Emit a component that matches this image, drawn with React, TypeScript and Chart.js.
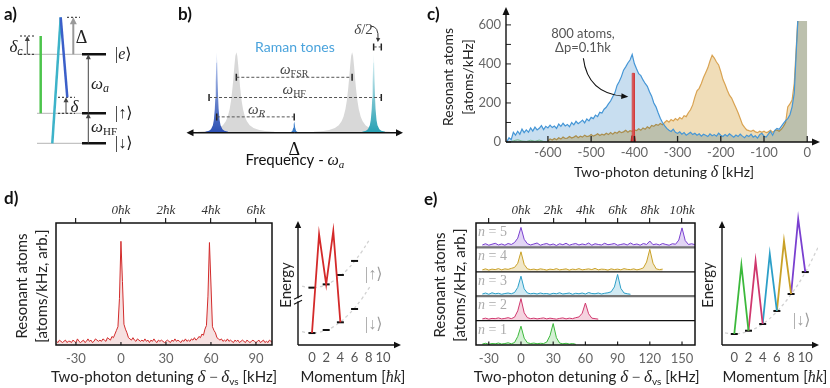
import React, { useEffect, useRef } from 'react';
import { Chart, registerables } from 'chart.js';

Chart.register(...registerables);

// ================= DATA =================
// (a) level scheme, schematic energy units
const aLevelEnergy = [0, 30, 89]; // |↓⟩, |↑⟩, |e⟩
const aDetuningDelta = 37; // Δ above |e⟩
const aCavityDelta = 18.3; // δc above |e⟩
const aTwoPhotonDelta = 16; // δ above |↑⟩

// (b) spectrum, schematic frequency units
const bToneCenters = [-81, 83]; // strong Raman tones
const bSmallToneCenter = 0;
const bCavityCenters = [-60.5, 60.5];
const bCavityOffsets = [-40, -30, -24, -18, -14, -11, -9, -7, -5.5, -4, -3, -2, -1, 0, 1, 2, 3, 4, 5.5, 7, 9, 11, 14, 18, 24, 30, 40];
const bCavityVals = [1.1, 1.9, 2.9, 5.1, 8.1, 12.3, 17.2, 25.1, 34.5, 48.0, 59.6, 71.8, 82.0, 86, 82.0, 71.8, 59.6, 48.0, 34.5, 25.1, 17.2, 12.3, 8.1, 5.1, 2.9, 1.9, 1.1];
const bToneOffsets = [-12, -8, -6, -4, -3, -2, -1.5, -1, -0.5, 0, 0.5, 1, 1.5, 2, 3, 4, 6, 8, 12];
const bToneVals = [1.0, 2.2, 3.9, 8.2, 13.6, 25.5, 36.9, 54.0, 74.9, 86, 74.9, 54.0, 36.9, 25.5, 13.6, 8.2, 3.9, 2.2, 1.0];
const bSmallOffsets = [-5, -3, -2, -1, -0.5, 0, 0.5, 1, 2, 3, 5];
const bSmallVals = [0.4, 1.0, 2.0, 5.4, 9.2, 12, 9.2, 5.4, 2.0, 1.0, 0.4];
const bSpanFrom = [-60.5, -89, -81, 83];
const bSpanTo = [60.5, 91, 0, 91];
const bSpanLevel = [59.3, 37.7, 17, 91.7];

// (c) resonant atoms vs two-photon detuning
const C_STEP = 5;
const C_BLUE_START = -695;
const cBlueAtoms = [
  2, 22, 12, 50, 35, 55, 40, 66, 48, 62,
  50, 72, 56, 76, 62, 70, 84, 64, 80, 72,
  86, 74, 82, 70, 92, 80, 96, 82, 90, 78,
  100, 88, 106, 94, 102, 112, 98, 118, 108, 126,
  120, 138, 130, 152, 148, 168, 178, 195, 210, 232,
  252, 290, 310, 335, 368, 385, 405, 420, 448, 402,
  375, 350, 340, 318, 300, 285, 258, 235, 200, 180,
  150, 122, 100, 84, 70, 60, 54, 66, 50, 44,
  52, 40, 48, 35, 42, 50, 38, 45, 35, 42,
  30, 40, 35, 28, 42, 32, 38, 30, 45, 35,
  28, 38, 30, 42, 33, 25, 36, 28, 40, 30,
  22, 35, 28, 40, 25, 32, 20, 38, 45, 30,
  25, 40, 55, 35, 60, 70, 65, 80, 95, 110,
  120, 140, 180, 250, 480, 700, 700, 700, 700, 700,
];
const C_ORANGE_START = -600;
const cOrangeAtoms = [
  5, 15, 10, 18, 12, 22, 15, 25, 18, 20,
  28, 20, 25, 32, 22, 30, 25, 35, 28, 30,
  38, 30, 35, 42, 33, 40, 36, 45, 38, 48,
  40, 50, 45, 55, 48, 52, 60, 50, 58, 55,
  62, 58, 68, 60, 72, 65, 78, 70, 85, 80,
  90, 85, 95, 88, 100, 110, 102, 115, 108, 120,
  112, 125, 118, 135, 130, 150, 165, 190, 230, 262,
  275, 300, 330, 355, 380, 415, 445, 430, 410, 395,
  360, 320, 295, 265, 240, 225, 200, 175, 150, 120,
  90, 75, 62, 58, 55, 60, 52, 48, 55, 50,
  55, 48, 52, 60, 50, 58, 62, 55, 65, 80,
  100, 180, 195, 215, 300, 500, 700, 700, 700, 700,
  700,
];
const cGreenDetuning = [-690, -680, -670, -660, -650, -640, -630, -620, -610, -600];
const cGreenAtoms = [0, 6, 12, 5, 3, 9, 4, 10, 3, 0];
const cRedBarDetuning = [-405, -405, -400, -400];
const cRedBarAtoms = [0, 352, 352, 0];
const cRedFootDetuning = [-408, -406, -399, -397];
const cRedFootAtoms = [0, 32, 32, 0];
const cDetuningTicks = [-600, -500, -400, -300, -200, -100, 0];
const cAtomTicks = [0, 100, 200, 300, 400, 500, 600];
const cAtomLabelTicks = [0, 200, 400, 600];
const cNoteDetuning = -519;
const cNoteAtoms = [557, 484];

// (d) single-order spectrum
const D_START = -43;
const dSignal = [
  0.03, 0.02, 0.04, 0.03, 0.02, 0.03, 0.04, 0.02, 0.03, 0.03,
  0.02, 0.04, 0.03, 0.02, 0.05, 0.03, 0.02, 0.03, 0.04, 0.02,
  0.03, 0.05, 0.03, 0.04, 0.02, 0.03, 0.05, 0.04, 0.03, 0.04,
  0.03, 0.05, 0.04, 0.03, 0.06, 0.05, 0.04, 0.07, 0.06, 0.09,
  0.12, 0.15, 0.38, 0.85, 0.52, 0.17, 0.13, 0.10, 0.06, 0.05,
  0.04, 0.06, 0.04, 0.03, 0.05, 0.04, 0.03, 0.04, 0.03, 0.05,
  0.03, 0.04, 0.02, 0.04, 0.03, 0.05, 0.03, 0.02, 0.04, 0.03,
  0.04, 0.03, 0.02, 0.03, 0.04, 0.03, 0.02, 0.04, 0.03, 0.05,
  0.03, 0.04, 0.03, 0.02, 0.04, 0.03, 0.05, 0.03, 0.04, 0.03,
  0.05, 0.04, 0.06, 0.04, 0.05, 0.07, 0.06, 0.09, 0.08, 0.13,
  0.16, 0.40, 0.84, 0.50, 0.15, 0.12, 0.10, 0.06, 0.05, 0.04,
  0.05, 0.03, 0.04, 0.03, 0.05, 0.03, 0.04, 0.03, 0.02, 0.04,
  0.03, 0.04, 0.02, 0.03, 0.04, 0.03, 0.02, 0.04, 0.03, 0.02,
  0.03, 0.04, 0.03, 0.02, 0.03, 0.04, 0.02, 0.03, 0.04, 0.02,
  0.03, 0.02, 0.04, 0.03, 0.02,
];
const dTicks = [-30, 0, 30, 60, 90];
const dTopLabels = ['', '0ħk', '2ħk', '4ħk', '6ħk'];
const d2ZigP = [0, 1, 2, 3, 4];
const d2ZigE = [9.8, 90.7, 49.7, 93.4, 18.6];
const d2LevelP = [0, 2, 4, 6];
const d2LevelLow = [9.8, 12.3, 18.6, 29.5];
const d2LevelUp = [47, 49.7, 57.4, 68.9];
const d2ParabP = [-1.4, -1, 0, 1, 2, 3, 4, 5, 6, 7, 8.2];
const d2ParabLow = [10.9, 10.4, 9.8, 10.4, 12.1, 14.9, 18.9, 24.1, 30.3, 37.7, 48.1];
const d2ParabUp = [48.2, 47.6, 47, 47.6, 49.4, 52.4, 56.6, 62, 68.6, 76.4, 87.3];
const d2BreakE = 37;
const momentumTicks = [0, 2, 4, 6, 8, 10];

// (e) higher-order spectra, one strip per n
const E_START = -36;
const E_STEP = 3;
const eN1 = [
  0.04, 0.07, 0.03, 0.06, 0.05, 0.08, 0.04, 0.06, 0.09, 0.05,
  0.10, 0.35, 0.77, 0.28, 0.09, 0.06, 0.08, 0.05, 0.07, 0.06,
  0.12, 0.38, 0.88, 0.30, 0.08, 0.05, 0.07, 0.04, 0.06, 0.03,
];
const eN2 = [
  0.07, 0.10, 0.06, 0.09, 0.08, 0.11, 0.07, 0.09, 0.12, 0.08,
  0.14, 0.40, 0.90, 0.32, 0.12, 0.08, 0.10, 0.07, 0.09, 0.11,
  0.07, 0.10, 0.08, 0.06, 0.09, 0.11, 0.07, 0.10, 0.08, 0.12,
  0.15, 0.30, 0.72, 0.28, 0.10, 0.08, 0.06,
];
const eN3 = [
  0.09, 0.13, 0.08, 0.14, 0.10, 0.12, 0.08, 0.11, 0.13, 0.10,
  0.15, 0.36, 0.82, 0.30, 0.13, 0.10, 0.12, 0.09, 0.13, 0.10,
  0.11, 0.08, 0.12, 0.10, 0.14, 0.09, 0.11, 0.13, 0.08, 0.12,
  0.10, 0.13, 0.09, 0.15, 0.11, 0.10, 0.13, 0.09, 0.12, 0.14,
  0.18, 0.38, 0.89, 0.32, 0.13, 0.10, 0.08,
];
const eN4 = [
  0.08, 0.12, 0.07, 0.11, 0.09, 0.13, 0.08, 0.12, 0.10, 0.14,
  0.18, 0.35, 0.82, 0.30, 0.12, 0.09, 0.11, 0.08, 0.12, 0.10,
  0.07, 0.11, 0.09, 0.13, 0.08, 0.10, 0.12, 0.07, 0.11, 0.09,
  0.13, 0.08, 0.10, 0.12, 0.09, 0.14, 0.08, 0.11, 0.10, 0.07,
  0.12, 0.09, 0.11, 0.08, 0.13, 0.10, 0.09, 0.12, 0.08, 0.11,
  0.16, 0.40, 0.92, 0.35, 0.12, 0.09, 0.11,
];
const eN5 = [
  0.10, 0.15, 0.09, 0.13, 0.17, 0.10, 0.14, 0.09, 0.16, 0.12,
  0.20, 0.38, 0.82, 0.33, 0.15, 0.10, 0.14, 0.18, 0.09, 0.13,
  0.16, 0.10, 0.14, 0.08, 0.15, 0.11, 0.17, 0.09, 0.13, 0.16,
  0.10, 0.14, 0.11, 0.18, 0.09, 0.15, 0.12, 0.10, 0.17, 0.11,
  0.13, 0.16, 0.09, 0.12, 0.15, 0.10, 0.18, 0.11, 0.14, 0.09,
  0.16, 0.12, 0.26, 0.11, 0.14, 0.10, 0.16, 0.12, 0.09, 0.15,
  0.13, 0.30, 0.80, 0.28, 0.12, 0.15, 0.11,
];
const eStrips = [eN1, eN2, eN3, eN4, eN5];
const eTicks = [-30, 0, 30, 60, 90, 120, 150];
const eTopLabels = ['', '0ħk', '2ħk', '4ħk', '6ħk', '8ħk', '10ħk'];
const e2ZigP = [0, 1, 2, 3, 4, 5, 6, 7, 8, 9, 10];
const e2ZigE = [9.0, 65.6, 11.7, 68.9, 17.2, 74.6, 27.9, 85.2, 41.8, 103.3, 59.8];
const e2ParabP = [-1.3, 0, 2, 4, 6, 8, 10, 11.8];
const e2ParabE = [10, 9, 11.3, 17.2, 27.5, 41.5, 59.5, 80];

// ================= STYLE =================
const SANS = 'Lato, "Noto Sans", "DejaVu Sans", sans-serif';
const SERIF = '"Liberation Serif", "DejaVu Serif", "DejaVu Sans", serif';
const fs = (size: number, weight = '') => `${weight ? weight + ' ' : ''}${size}px ${SANS}`;
const fr = (size: number, italic = false) => `${italic ? 'italic ' : ''}${size}px ${SERIF}`;
const STRIP_COLORS = ['#3cb93c', '#d0386e', '#2c9fc8', '#c9a128', '#7a40d0'];
const STRIP_FILLS = ['rgba(60,185,60,0.22)', 'rgba(208,56,110,0.22)', 'rgba(44,159,200,0.22)', 'rgba(201,161,40,0.25)', 'rgba(122,64,208,0.22)'];

Chart.defaults.font.family = SANS;

// ================= HELPERS =================
type Run = { t: string; f: string; dy?: number; c?: string };
function runs(ctx: any, items: Run[], x: number, y: number, align = 'center', rot = 0, color = '#222') {
  ctx.save();
  ctx.translate(x, y);
  if (rot) ctx.rotate(rot);
  ctx.textBaseline = 'alphabetic';
  ctx.textAlign = 'left';
  let w = 0;
  for (const it of items) { ctx.font = it.f; w += ctx.measureText(it.t).width; }
  let cx = align === 'center' ? -w / 2 : align === 'right' ? -w : 0;
  for (const it of items) {
    ctx.font = it.f;
    ctx.fillStyle = it.c || color;
    ctx.fillText(it.t, cx, it.dy || 0);
    cx += ctx.measureText(it.t).width;
  }
  ctx.restore();
}
function head(ctx: any, x: number, y: number, a: number, color: string, hl: number, hw: number) {
  ctx.save();
  ctx.fillStyle = color;
  ctx.beginPath();
  ctx.moveTo(x, y);
  ctx.lineTo(x - Math.cos(a) * hl - Math.sin(a) * hw, y - Math.sin(a) * hl + Math.cos(a) * hw);
  ctx.lineTo(x - Math.cos(a) * hl + Math.sin(a) * hw, y - Math.sin(a) * hl - Math.cos(a) * hw);
  ctx.closePath();
  ctx.fill();
  ctx.restore();
}
function arrow(ctx: any, x1: number, y1: number, x2: number, y2: number, color: string, lw: number, hl = 6, hw = 3) {
  const a = Math.atan2(y2 - y1, x2 - x1);
  ctx.save();
  ctx.strokeStyle = color;
  ctx.lineWidth = lw;
  ctx.beginPath();
  ctx.moveTo(x1, y1);
  ctx.lineTo(x2 - Math.cos(a) * hl * 0.7, y2 - Math.sin(a) * hl * 0.7);
  ctx.stroke();
  ctx.restore();
  head(ctx, x2, y2, a, color, hl, hw);
}
function curveArrow(ctx: any, x0: number, y0: number, cx: number, cy: number, x1: number, y1: number, color: string, lw: number, hl = 6, hw = 3) {
  const a = Math.atan2(y1 - cy, x1 - cx);
  ctx.save();
  ctx.strokeStyle = color;
  ctx.lineWidth = lw;
  ctx.beginPath();
  ctx.moveTo(x0, y0);
  ctx.quadraticCurveTo(cx, cy, x1 - Math.cos(a) * hl * 0.7, y1 - Math.sin(a) * hl * 0.7);
  ctx.stroke();
  ctx.restore();
  head(ctx, x1, y1, a, color, hl, hw);
}
function seg(ctx: any, x1: number, y1: number, x2: number, y2: number, color: string, lw: number) {
  ctx.save();
  ctx.strokeStyle = color;
  ctx.lineWidth = lw;
  ctx.beginPath();
  ctx.moveTo(x1, y1);
  ctx.lineTo(x2, y2);
  ctx.stroke();
  ctx.restore();
}
const noPad = (s: any) => { s.paddingLeft = 0; s.paddingRight = 0; s.paddingTop = 0; s.paddingBottom = 0; };
const fitW = (w: number) => (s: any) => { s.width = w; noPad(s); };
const fitH = (h: number) => (s: any) => { s.height = h; noPad(s); };
const useTicks = (vals: number[]) => (s: any) => { s.ticks = vals.map((v) => ({ value: v })); };
const pts = (xs: number[], ys: number[]) => ys.map((y, i) => ({ x: xs[i], y }));

const common: any = {
  responsive: false,
  animation: false,
  events: [],
  plugins: { legend: { display: false }, tooltip: { enabled: false }, title: { display: false } },
  elements: { point: { radius: 0 }, line: { tension: 0 } },
};
const hidden = (min: number, max: number) => ({ type: 'linear', display: false, min, max });
const bottomAxis = (min: number, max: number, ticks: number[], h: number, pad: number, labels?: string[], color = '#666') => ({
  type: 'linear', position: 'bottom', min, max,
  grid: { display: false, drawTicks: false }, border: { display: false },
  afterBuildTicks: useTicks(ticks), afterFit: fitH(h),
  ticks: { autoSkip: false, maxRotation: 0, minRotation: 0, padding: pad, color, font: { family: SANS, size: 13 },
    callback: (v: any, i: number) => (labels ? labels[i] : String(v)) },
});
const topAxis = (min: number, max: number, ticks: number[], labels: string[]) => ({
  type: 'linear', position: 'top', min, max,
  grid: { display: true, drawOnChartArea: false, drawTicks: true, tickLength: 5, color: '#222', lineWidth: 1.2 },
  border: { display: false },
  afterBuildTicks: useTicks(ticks), afterFit: fitH(33),
  ticks: { autoSkip: false, maxRotation: 0, minRotation: 0, padding: 0, color: '#333', font: { family: SERIF, style: 'italic', size: 13 },
    callback: (_v: any, i: number) => labels[i] },
});
const ket = (sym: string, italic = false, size = 16): Run[] => [
  { t: '|', f: fr(size) }, { t: sym, f: fr(size, italic) }, { t: '⟩', f: fr(size) },
];

// ================= PANELS =================
function makeA() {
  const [dn, up, e] = aLevelEnergy;
  const eTop = e + aDetuningDelta;
  const cTop = e + aCavityDelta;
  const dTop = up + aTwoPhotonDelta;
  const gap = (x: number) => ({ x, y: null });
  const levels = [{ x: 82, y: dn }, { x: 106, y: dn }, gap(106), { x: 82, y: up }, { x: 106, y: up }, gap(106), { x: 82, y: e }, { x: 106, y: e }];
  const grey = [{ x: 20, y: e }, { x: 82, y: e }, gap(82), { x: 37, y: up }, { x: 82, y: up }, gap(82), { x: 37, y: dn }, { x: 82, y: dn }];
  const dashes = [
    { x: 20, y: cTop }, { x: 35, y: cTop }, gap(35),
    { x: 20, y: e }, { x: 35, y: e }, gap(35),
    { x: 67, y: eTop }, { x: 80, y: eTop }, gap(80),
    { x: 58, y: dTop }, { x: 75, y: dTop }, gap(75),
    { x: 58, y: up }, { x: 75, y: up },
  ];
  const plugin = {
    id: 'adeco',
    afterDraw(chart: any) {
      const ctx = chart.ctx;
      const X = (v: number) => chart.scales.x.getPixelForValue(v);
      const Y = (v: number) => chart.scales.y.getPixelForValue(v);
      arrow(ctx, X(27.3), Y(e), X(27.3), Y(cTop), '#444', 1, 5, 2.5);
      arrow(ctx, X(73.3), Y(e), X(73.3), Y(eTop), '#9a9a9a', 2, 7, 3.5);
      arrow(ctx, X(66), Y(up), X(66), Y(dTop), '#444', 1, 5, 2.5);
      arrow(ctx, X(88.3), Y(up), X(88.3), Y(e), '#444', 1, 5, 2.5);
      arrow(ctx, X(88.3), Y(dn), X(88.3), Y(up), '#444', 1, 5, 2.5);
      runs(ctx, [{ t: 'δ', f: fr(17, true) }, { t: 'c', f: fr(12, true), dy: 3 }], X(16), Y(96.6) + 5);
      runs(ctx, [{ t: 'Δ', f: fr(18) }], X(81.5), Y(106.6) + 6);
      runs(ctx, ket('e', true), X(115), Y(e) + 5, 'left');
      runs(ctx, ket('↑'), X(115), Y(up) + 5, 'left');
      runs(ctx, ket('↓'), X(115), Y(dn) + 5, 'left');
      runs(ctx, [{ t: 'ω', f: fr(17, true) }, { t: 'a', f: fr(12, true), dy: 3 }], X(91), Y(58.3) + 4, 'left');
      runs(ctx, [{ t: 'δ', f: fr(17, true) }], X(74.5), Y(36.3) + 5);
      runs(ctx, [{ t: 'ω', f: fr(17, true) }, { t: 'HF', f: fr(11), dy: 3 }], X(91), Y(15.3) + 4, 'left');
      runs(ctx, [{ t: 'a)', f: fs(17, 'bold') }], 4, 20, 'left', 0, '#111');
    },
  };
  return {
    type: 'line',
    data: {
      datasets: [
        { data: levels, borderColor: '#111', borderWidth: 2.5 },
        { data: [{ x: 60.7, y: eTop }, { x: 67.3, y: dTop }], borderColor: '#3b5fc9', borderWidth: 2.5 },
        { data: [{ x: 52.3, y: dn }, { x: 60.7, y: eTop }], borderColor: '#3db3c9', borderWidth: 2.5 },
        { data: [{ x: 40.7, y: up }, { x: 40.7, y: cTop }], borderColor: '#4cc44c', borderWidth: 2.5 },
        { data: dashes, borderColor: '#222', borderWidth: 1, borderDash: [2, 2] },
        { data: grey, borderColor: '#b4b4b4', borderWidth: 1 },
      ],
    },
    options: { ...common, layout: { padding: 0 }, scales: { x: hidden(0, 165), y: hidden(-26.7, 143.3) } },
    plugins: [plugin],
  };
}

function makeB() {
  const peak = (c: number, offs: number[], vals: number[]) => offs.map((d, i) => ({ x: c + d, y: vals[i] }));
  const spans: any[] = [];
  const ends: any[] = [];
  bSpanFrom.forEach((f, i) => {
    spans.push({ x: f, y: bSpanLevel[i] }, { x: bSpanTo[i], y: bSpanLevel[i] }, { x: bSpanTo[i], y: null });
    ends.push({ x: f, y: bSpanLevel[i] }, { x: bSpanTo[i], y: bSpanLevel[i] });
  });
  const grad = (c0: string, c1: string) => (context: any) => {
    const chart = context.chart;
    const ys = chart.scales && chart.scales.y;
    if (!chart.chartArea || !ys) return c0;
    const g = chart.ctx.createLinearGradient(0, ys.getPixelForValue(0), 0, ys.getPixelForValue(86));
    g.addColorStop(0, c0);
    g.addColorStop(1, c1);
    return g;
  };
  const plugin = {
    id: 'bdeco',
    afterDraw(chart: any) {
      const ctx = chart.ctx;
      const X = (v: number) => chart.scales.x.getPixelForValue(v);
      const Y = (v: number) => chart.scales.y.getPixelForValue(v);
      const y0 = Y(0);
      arrow(ctx, X(0), y0, X(113.7), y0, '#111', 1.5, 7, 3.5);
      arrow(ctx, X(0), y0, X(-112.6), y0, '#111', 1.5, 7, 3.5);
      runs(ctx, [{ t: 'ω', f: fr(15, true) }, { t: 'FSR', f: fr(10), dy: 3 }], X(0), Y(66.7) + 4, 'center', 0, '#444');
      runs(ctx, [{ t: 'ω', f: fr(15, true) }, { t: 'HF', f: fr(10), dy: 3 }], X(0), Y(45.3) + 4, 'center', 0, '#444');
      runs(ctx, [{ t: 'ω', f: fr(15, true) }, { t: 'R', f: fr(11, true), dy: 3 }], X(-39.3), Y(24.3) + 4, 'center', 0, '#444');
      runs(ctx, [{ t: 'Raman tones', f: fs(14) }], X(0.7), Y(91.7) + 5, 'center', 0, '#4aa3dc');
      runs(ctx, [{ t: 'δ', f: fr(15, true) }, { t: '/2', f: fr(15) }], X(72.4), Y(111) + 5, 'center', 0, '#444');
      curveArrow(ctx, X(80), Y(114), X(88.5), Y(114), X(87.4), Y(97), '#333', 1, 4, 2.2);
      runs(ctx, [{ t: 'Δ', f: fr(18) }], X(0), Y(-17) + 6, 'center', 0, '#111');
      runs(ctx, [{ t: 'Frequency - ', f: fs(15) }, { t: 'ω', f: fr(16, true) }, { t: 'a', f: fr(11, true), dy: 3 }], X(0.7), Y(-29.5) + 5, 'center', 0, '#111');
      runs(ctx, [{ t: 'b)', f: fs(17, 'bold') }], 13, 20, 'left', 0, '#111');
    },
  };
  return {
    type: 'line',
    data: {
      datasets: [
        { data: spans, borderColor: '#555', borderWidth: 1, borderDash: [3, 2] },
        { data: ends, showLine: false, pointStyle: 'line', pointRotation: 90, pointRadius: 3.5, pointBorderWidth: 1.5, pointBorderColor: '#222' },
        { data: peak(bToneCenters[0], bToneOffsets, bToneVals), borderWidth: 0, fill: 'origin', backgroundColor: grad('#2b4fb3', '#c4d2f2') },
        { data: peak(bToneCenters[1], bToneOffsets, bToneVals), borderWidth: 0, fill: 'origin', backgroundColor: grad('#27a0b3', '#eef8fa') },
        { data: peak(bSmallToneCenter, bSmallOffsets, bSmallVals), borderWidth: 0, fill: 'origin', backgroundColor: '#3a7cc8' },
        { data: peak(bCavityCenters[0], bCavityOffsets, bCavityVals), borderWidth: 0, fill: 'origin', backgroundColor: '#d8d8d8' },
        { data: peak(bCavityCenters[1], bCavityOffsets, bCavityVals), borderWidth: 0, fill: 'origin', backgroundColor: '#d8d8d8' },
      ],
    },
    options: { ...common, layout: { padding: 0 }, scales: { x: hidden(-129.3, 125.7), y: hidden(-36, 136) } },
    plugins: [plugin],
  };
}

function makeC() {
  const blue = cBlueAtoms.map((y, i) => ({ x: C_BLUE_START + C_STEP * i, y }));
  const orange = cOrangeAtoms.map((y, i) => ({ x: C_ORANGE_START + C_STEP * i, y }));
  // fills of the distributions blend multiplicatively; outlines and the red bar draw normally
  const plugin = {
    id: 'cdeco',
    beforeDatasetsDraw(chart: any) { chart.ctx.save(); chart.ctx.globalCompositeOperation = 'multiply'; },
    beforeDatasetDraw(chart: any) { chart.ctx.globalCompositeOperation = 'source-over'; },
    afterDatasetDraw(chart: any, args: any) {
      chart.ctx.globalCompositeOperation = args.index > 2 ? 'multiply' : 'source-over';
    },
    afterDatasetsDraw(chart: any) { chart.ctx.restore(); },
    afterDraw(chart: any) {
      const ctx = chart.ctx;
      const a = chart.chartArea;
      const xs = chart.scales.x;
      const ys = chart.scales.y;
      for (const v of cAtomTicks) seg(ctx, a.left, ys.getPixelForValue(v), a.left + 5, ys.getPixelForValue(v), '#222', 1);
      for (const v of cDetuningTicks) seg(ctx, xs.getPixelForValue(v), a.bottom, xs.getPixelForValue(v), a.bottom - 6, '#222', 1.3);
      arrow(ctx, a.left, a.bottom, 400, a.bottom, '#111', 1.4, 8, 3.5);
      arrow(ctx, a.left, a.bottom, a.left, 7, '#111', 1.4, 8, 3.5);
      runs(ctx, [{ t: 'Resonant atoms', f: fs(14) }], 33, 77, 'center', -Math.PI / 2);
      runs(ctx, [{ t: '[atoms/kHz]', f: fs(14) }], 53, 77, 'center', -Math.PI / 2);
      runs(ctx, [{ t: 'Two-photon detuning ', f: fs(14) }, { t: 'δ', f: fr(16, true) }, { t: ' [kHz]', f: fs(14) }], 244, 177);
      const nx = xs.getPixelForValue(cNoteDetuning);
      runs(ctx, [{ t: '800 atoms,', f: fs(13) }], nx, ys.getPixelForValue(cNoteAtoms[0]) + 4.5, 'center', 0, '#555');
      runs(ctx, [{ t: 'Δp=0.1ħk', f: fs(13) }], nx, ys.getPixelForValue(cNoteAtoms[1]) + 4.5, 'center', 0, '#555');
      curveArrow(ctx, xs.getPixelForValue(-518), ys.getPixelForValue(429), xs.getPixelForValue(-508), ys.getPixelForValue(250),
        xs.getPixelForValue(-414), ys.getPixelForValue(232), '#111', 1.1, 7, 3);
      runs(ctx, [{ t: 'c)', f: fs(17, 'bold') }], 7, 20, 'left', 0, '#111');
    },
  };
  return {
    type: 'line',
    data: {
      datasets: [
        { data: pts(cRedBarDetuning, cRedBarAtoms), borderColor: '#d03a3a', borderWidth: 0.8, fill: 'origin', backgroundColor: '#e25a5a' },
        { data: pts(cRedFootDetuning, cRedFootAtoms), borderColor: '#a81c1c', borderWidth: 0.8, fill: 'origin', backgroundColor: '#b82424' },
        { data: blue, borderColor: '#4596d6', borderWidth: 1.2, fill: 'origin', backgroundColor: '#c8def0' },
        { data: orange, borderColor: '#d9a352', borderWidth: 1.2, fill: 'origin', backgroundColor: '#f0ddb8' },
        { data: pts(cGreenDetuning, cGreenAtoms), borderColor: '#9ad49a', borderWidth: 1, fill: 'origin', backgroundColor: '#dcefd8' },
      ],
    },
    options: {
      ...common,
      layout: { padding: { left: 0, top: 21, right: 15, bottom: 0 } },
      scales: {
        x: {
          type: 'linear', position: 'bottom', min: -697, max: 18,
          grid: { display: false, drawTicks: false }, border: { display: false },
          afterBuildTicks: useTicks(cDetuningTicks), afterFit: fitH(48),
          ticks: { autoSkip: false, maxRotation: 0, minRotation: 0, padding: 3, color: '#666', font: { family: SANS, size: 13 }, callback: (v: any) => String(v) },
        },
        y: {
          type: 'linear', position: 'left', min: 0, max: 620,
          grid: { display: false, drawTicks: false }, border: { display: false },
          afterBuildTicks: useTicks(cAtomLabelTicks), afterFit: fitW(86),
          ticks: { autoSkip: false, padding: 5, color: '#666', font: { family: SANS, size: 13 }, callback: (v: any) => String(v) },
        },
      },
    },
    plugins: [plugin],
  };
}

function detuningTitle(ctx: any, x: number, y: number) {
  runs(ctx, [
    { t: 'Two-photon detuning ', f: fs(15) }, { t: 'δ', f: fr(17, true) }, { t: ' − ', f: fr(15) },
    { t: 'δ', f: fr(17, true) }, { t: 'vs', f: fs(10), dy: 3 }, { t: ' [kHz]', f: fs(15) },
  ], x, y);
}
function momentumTitle(ctx: any, x: number, y: number) {
  runs(ctx, [{ t: 'Momentum [', f: fs(15) }, { t: 'ħk', f: fr(16, true) }, { t: ']', f: fs(15) }], x, y);
}

function makeD1() {
  const data = dSignal.map((y, i) => ({ x: D_START + i, y }));
  const plugin = {
    id: 'd1deco',
    afterDraw(chart: any) {
      const ctx = chart.ctx;
      const a = chart.chartArea;
      const xs = chart.scales.x;
      for (const v of dTicks) seg(ctx, xs.getPixelForValue(v), a.bottom, xs.getPixelForValue(v), a.bottom - 3, '#222', 1.2);
      ctx.save();
      ctx.strokeStyle = '#111';
      ctx.lineWidth = 1.5;
      ctx.strokeRect(a.left, a.top, a.right - a.left, a.bottom - a.top);
      ctx.restore();
      runs(ctx, [{ t: 'Resonant atoms', f: fs(15) }], 27, 96, 'center', -Math.PI / 2);
      runs(ctx, [{ t: '[atoms/kHz, arb.]', f: fs(15) }], 47, 96, 'center', -Math.PI / 2);
      detuningTitle(ctx, 164, 192);
      runs(ctx, [{ t: 'd)', f: fs(17, 'bold') }], 4, 14, 'left', 0, '#111');
    },
  };
  return {
    type: 'line',
    data: { datasets: [{ data, borderColor: '#d22b2b', borderWidth: 1, fill: 'origin', backgroundColor: 'rgba(214,120,120,0.22)' }] },
    options: {
      ...common,
      layout: { padding: { left: 56, right: 6, top: 0, bottom: 0 } },
      scales: {
        x: bottomAxis(-43.3, 100.7, dTicks, 43, 6),
        xTop: topAxis(-43.3, 100.7, dTicks, dTopLabels),
        y: hidden(0, 1),
      },
    },
    plugins: [plugin],
  };
}

function energyAxes(ctx: any, a: any) {
  arrow(ctx, a.left, a.bottom, a.right + 1, a.bottom, '#111', 1.4, 7, 3.2);
  arrow(ctx, a.left, a.bottom, a.left, a.top - 2, '#111', 1.4, 7, 3.2);
}
const levelPoints = { showLine: false, pointStyle: 'line', pointRadius: 3.5, pointBorderWidth: 2, pointBorderColor: '#111', borderColor: '#111' };
const parabStyle = { borderColor: '#d2d2d2', borderWidth: 1.3, borderDash: [3, 3], tension: 0.4 };

function makeD2() {
  const levels = [...pts(d2LevelP, d2LevelLow), ...pts(d2LevelP, d2LevelUp)];
  const plugin = {
    id: 'd2deco',
    afterDraw(chart: any) {
      const ctx = chart.ctx;
      const a = chart.chartArea;
      const xs = chart.scales.x;
      const ys = chart.scales.y;
      energyAxes(ctx, a);
      const by = ys.getPixelForValue(d2BreakE);
      ctx.save();
      ctx.fillStyle = '#fff';
      ctx.fillRect(a.left - 3, by - 1.5, 6, 3);
      ctx.restore();
      seg(ctx, a.left - 4, by - 0.5, a.left + 4, by - 4.5, '#111', 1.1);
      seg(ctx, a.left - 4, by + 4.5, a.left + 4, by + 0.5, '#111', 1.1);
      runs(ctx, ket('↑'), xs.getPixelForValue(7.46), ys.getPixelForValue(58) + 5, 'left', 0, '#a0a0a0');
      runs(ctx, ket('↓'), xs.getPixelForValue(7.46), ys.getPixelForValue(17) + 5, 'left', 0, '#a0a0a0');
      runs(ctx, [{ t: 'Energy', f: fs(15) }], 15, 95, 'center', -Math.PI / 2);
      momentumTitle(ctx, 77, 192);
    },
  };
  return {
    type: 'line',
    data: {
      datasets: [
        { data: pts(d2ZigP, d2ZigE), borderColor: '#d42a2a', borderWidth: 1.8 },
        { data: levels, ...levelPoints },
        { data: pts(d2ParabP, d2ParabLow), ...parabStyle },
        { data: pts(d2ParabP, d2ParabUp), ...parabStyle },
      ],
    },
    options: {
      ...common,
      layout: { padding: { left: 22, right: 15, top: 33, bottom: 0 } },
      scales: { x: bottomAxis(-1.97, 12.4, momentumTicks, 43, 5, undefined, '#555'), y: hidden(0, 100) },
    },
    plugins: [plugin],
  };
}

function makeE1() {
  const datasets = eStrips.map((vals, k) => ({
    data: vals.map((v, i) => ({ x: E_START + E_STEP * i, y: k + v })),
    borderColor: STRIP_COLORS[k], borderWidth: 1, fill: { value: k }, backgroundColor: STRIP_FILLS[k],
  }));
  const plugin = {
    id: 'e1deco',
    afterDraw(chart: any) {
      const ctx = chart.ctx;
      const a = chart.chartArea;
      const xs = chart.scales.x;
      const ys = chart.scales.y;
      for (let k = 1; k <= 4; k++) {
        const py = ys.getPixelForValue(k);
        if (k % 2 === 0) seg(ctx, a.left, py, a.right, py, '#767676', 2.2);
        else seg(ctx, a.left, py, a.right, py, '#111', 1.2);
      }
      for (const v of eTicks) seg(ctx, xs.getPixelForValue(v), a.bottom, xs.getPixelForValue(v), a.bottom - 3.5, '#222', 1.2);
      ctx.save();
      ctx.strokeStyle = '#111';
      ctx.lineWidth = 1.5;
      ctx.strokeRect(a.left, a.top, a.right - a.left, a.bottom - a.top);
      ctx.restore();
      for (let n = 1; n <= 5; n++) {
        runs(ctx, [{ t: 'n', f: fr(14, true) }, { t: ' = ' + n, f: fr(14) }], 58, ys.getPixelForValue(n) + 13, 'left', 0, '#ababab');
      }
      runs(ctx, [{ t: 'Resonant atoms', f: fs(15) }], 25, 95, 'center', -Math.PI / 2);
      runs(ctx, [{ t: '[atoms/kHz, arb.]', f: fs(15) }], 45, 95, 'center', -Math.PI / 2);
      detuningTitle(ctx, 166.7, 192);
      runs(ctx, [{ t: 'e)', f: fs(17, 'bold') }], 4, 15, 'left', 0, '#111');
    },
  };
  return {
    type: 'line',
    data: { datasets },
    options: {
      ...common,
      layout: { padding: { left: 56, right: 5, top: 0, bottom: 0 } },
      scales: {
        x: bottomAxis(-41.9, 162.1, eTicks, 43, 6),
        xTop: topAxis(-41.9, 162.1, eTicks, eTopLabels),
        y: hidden(0, 5),
      },
    },
    plugins: [plugin],
  };
}

function makeE2() {
  const zig = pts(e2ZigP, e2ZigE);
  const segs = STRIP_COLORS.map((c, k) => ({ data: zig.slice(2 * k, 2 * k + 3), borderColor: c, borderWidth: 1.8, clip: false }));
  const levels = zig.filter((_p, i) => i % 2 === 0);
  const plugin = {
    id: 'e2deco',
    afterDraw(chart: any) {
      const ctx = chart.ctx;
      const a = chart.chartArea;
      const xs = chart.scales.x;
      const ys = chart.scales.y;
      energyAxes(ctx, a);
      runs(ctx, ket('↓'), xs.getPixelForValue(8.27), ys.getPixelForValue(20.5) + 5, 'left', 0, '#a0a0a0');
      runs(ctx, [{ t: 'Energy', f: fs(15) }], 13, 95, 'center', -Math.PI / 2);
      momentumTitle(ctx, 75, 192);
    },
  };
  return {
    type: 'line',
    data: {
      datasets: [
        ...segs,
        { data: levels, ...levelPoints },
        { data: pts(e2ParabP, e2ParabE), ...parabStyle },
      ],
    },
    options: {
      ...common,
      layout: { padding: { left: 22, right: 12, top: 33, bottom: 0 } },
      scales: { x: bottomAxis(-1.73, 11.79, momentumTicks, 43, 5, undefined, '#555'), y: hidden(0, 100) },
    },
    plugins: [plugin],
  };
}

const PANELS = [
  { key: 'a', left: 0, top: 0, w: 165, h: 170, make: makeA },
  { key: 'b', left: 165, top: 0, w: 255, h: 172, make: makeB },
  { key: 'c', left: 420, top: 0, w: 410, h: 190, make: makeC },
  { key: 'd1', left: 0, top: 190, w: 278, h: 198, make: makeD1 },
  { key: 'd2', left: 276, top: 190, w: 139, h: 198, make: makeD2 },
  { key: 'e1', left: 420, top: 190, w: 280, h: 198, make: makeE1 },
  { key: 'e2', left: 700, top: 190, w: 130, h: 198, make: makeE2 },
];

export default function App() {
  const refs = useRef<(HTMLCanvasElement | null)[]>([]);
  useEffect(() => {
    const charts = PANELS.map((p, i) => new Chart(refs.current[i] as HTMLCanvasElement, p.make() as any));
    return () => charts.forEach((c) => c.destroy());
  }, []);
  return (
    <div style={{ position: 'absolute', left: 0, top: 0, width: 830, height: 388, background: '#fff', overflow: 'hidden' }}>
      {PANELS.map((p, i) => (
        <canvas
          key={p.key}
          ref={(el) => { refs.current[i] = el; }}
          width={p.w}
          height={p.h}
          style={{ position: 'absolute', left: p.left, top: p.top, width: p.w, height: p.h }}
        />
      ))}
    </div>
  );
}
